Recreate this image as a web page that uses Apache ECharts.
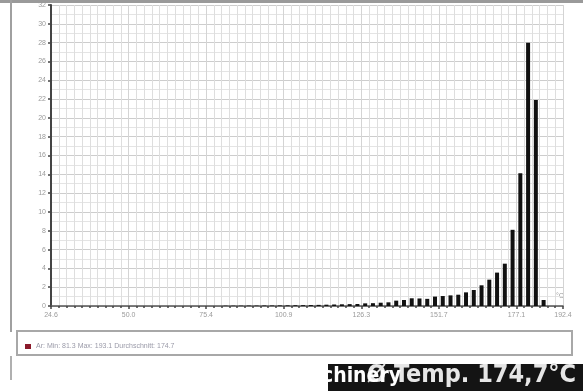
<!DOCTYPE html>
<html><head><meta charset="utf-8">
<script src="https://cdn.jsdelivr.net/npm/echarts@6/dist/echarts.min.js"></script>
<style>html,body{margin:0;padding:0;background:#fff}#c{width:583px;height:391px}</style>
</head><body><div id="c"></div>
<script>
// bin index (each bin ~2.54 °C wide, starting at 24.6 °C)
const binIndex = [22,23,24,25,26,27,28,29,30,31,32,33,34,35,36,37,38,39,40,41,42,43,44,45,46,47,48,49,50,51,52,53,54,55,56,57,58,59,60,61,62,63];
const counts   = [0.03,0.03,0.03,0.04,0.04,0.05,0.05,0.06,0.07,0.08,0.09,0.1,0.12,0.14,0.16,0.18,0.2,0.21,0.28,0.3,0.35,0.39,0.57,0.64,0.82,0.8,0.76,1.0,1.06,1.13,1.2,1.45,1.7,2.2,2.8,3.55,4.5,8.1,14.1,28.0,21.9,0.64];
const xTickPos    = [0,10,20,30,40,50,60,66];
const xTickLabels = ["24.6","50.0","75.4","100.9","126.3","151.7","177.1","192.4"];
const seriesName = "Ar: Min: 81.3 Max: 193.1 Durchschnitt: 174.7";

const chart = echarts.init(document.getElementById('c'), null, {renderer:'canvas'});
const lblFont = {color:'#9a9a9a', fontSize:7, fontFamily:'Liberation Sans'};
chart.setOption({
  animation:false,
  backgroundColor:'#fff',
  grid:{left:51, right:20, top:5, bottom:85},
  xAxis:{
    type:'value', min:0, max:66, interval:10,
    axisLine:{show:true, onZero:false, lineStyle:{color:'#555', width:1.5}},
    axisTick:{show:true, length:3, lineStyle:{color:'#444', width:1.5}},
    minorTick:{show:true, splitNumber:10, length:2, lineStyle:{color:'#444', width:1.5}},
    splitLine:{show:true, lineStyle:{color:'#d4d4d4', width:1}},
    minorSplitLine:{show:true, lineStyle:{color:'#dedede', width:1}},
    axisLabel:Object.assign({margin:6, showMaxLabel:true, hideOverlap:false,
      formatter:v=>{const k=xTickPos.indexOf(Math.round(v)); return k>=0?xTickLabels[k]:'';}}, lblFont)
  },
  yAxis:{
    type:'value', min:0, max:32, interval:2,
    axisLine:{show:true, lineStyle:{color:'#444', width:2}},
    axisTick:{show:true, length:3, lineStyle:{color:'#444', width:1.5}},
    splitLine:{show:true, lineStyle:{color:'#cdcdcd', width:1}},
    minorSplitLine:{show:true, lineStyle:{color:'#e4e4e4', width:1}},
    minorTick:{show:false, splitNumber:2},
    axisLabel:Object.assign({margin:5}, lblFont)
  },
  legend:{
    left:20, top:338, itemWidth:6, itemHeight:5, itemGap:4,
    icon:'rect',
    data:[{name:seriesName, itemStyle:{color:'#8b1a2b'}}],
    textStyle:{color:'#9a9aa8', fontSize:7, fontFamily:'Liberation Sans'}
  },
  series:[{
    name:seriesName, type:'bar', barWidth:4,
    itemStyle:{color:'#111'},
    data:binIndex.map((b,i)=>[b+0.5, counts[i]])
  }],
  graphic:[
    {type:'rect', z:-1, shape:{x:0,y:0,width:583,height:3}, style:{fill:'#9a9a9a'}},
    {type:'rect', z:-1, shape:{x:10,y:0,width:2,height:332}, style:{fill:'#a0a0a0'}},
    {type:'rect', z:-1, shape:{x:10,y:356,width:2,height:24}, style:{fill:'#b0b0b0'}},
    {type:'rect', z:-1, shape:{x:17,y:331,width:555,height:24}, style:{fill:'#fff', stroke:'#a8a8a8', lineWidth:2}},
    {type:'text', x:556, y:293, style:{text:'°C', fill:'#9a9a9a', fontSize:7, fontFamily:'Liberation Sans'}},
    {type:'rect', shape:{x:328,y:364,width:255,height:27}, style:{fill:'#141414'}},
    {type:'text', x:367, y:363, style:{text:'Ø Temp. 174,7°C', fill:'#e6e6e6', fontSize:25, fontWeight:'bold', fontFamily:'DejaVu Sans Condensed'}},
    {type:'text', x:322, y:366, style:{text:'chinery', fill:'#ffffff', fontSize:21, fontWeight:'bold', fontFamily:'DejaVu Sans Condensed'}}
  ]
});
</script></body></html>
